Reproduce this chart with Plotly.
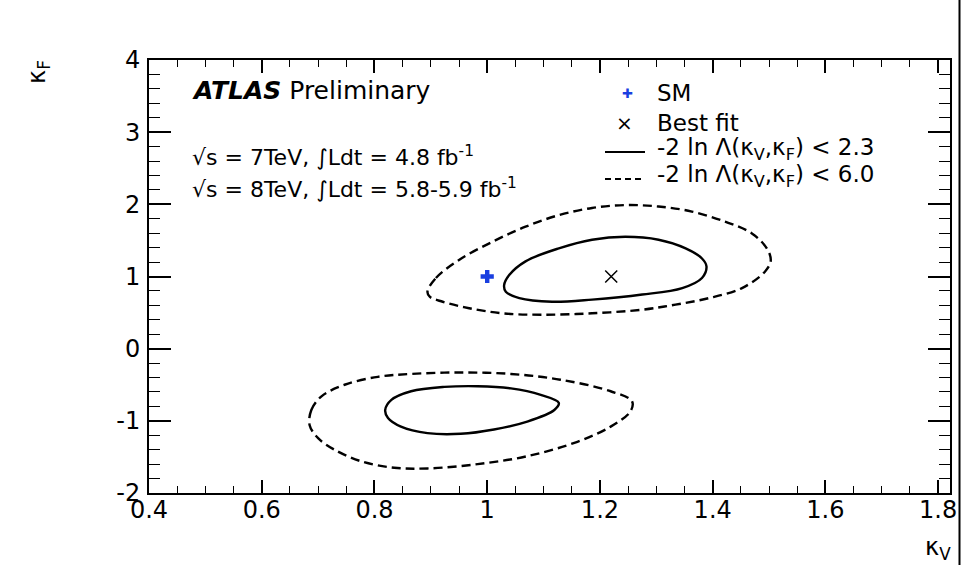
import plotly.graph_objects as go

# ---------------- data ----------------
sm_point = {"kv": [1.0], "kf": [1.0]}
best_fit = {"kv": [1.22], "kf": [1.0]}

upper_solid_kv = [1.030, 1.039, 1.068, 1.127, 1.186, 1.245, 1.304, 1.352, 1.381, 1.389,
                  1.381, 1.346, 1.275, 1.186, 1.115, 1.057, 1.033, 1.030]
upper_solid_kf = [0.88, 1.02, 1.21, 1.39, 1.51, 1.55, 1.51, 1.39, 1.25, 1.14,
                  0.98, 0.84, 0.75, 0.68, 0.65, 0.70, 0.79, 0.88]

upper_dashed_kv = [0.894, 0.909, 0.950, 1.009, 1.068, 1.127, 1.186, 1.245, 1.304, 1.363,
                   1.422, 1.469, 1.496, 1.503, 1.493, 1.452, 1.393, 1.334, 1.275, 1.186,
                   1.098, 1.027, 0.968, 0.921, 0.898, 0.894]
upper_dashed_kf = [0.79, 0.98, 1.23, 1.48, 1.69, 1.85, 1.95, 1.99, 1.97, 1.90,
                   1.76, 1.60, 1.39, 1.22, 1.07, 0.84, 0.70, 0.61, 0.54, 0.49,
                   0.47, 0.49, 0.56, 0.65, 0.72, 0.79]

lower_solid_kv = [0.819, 0.830, 0.865, 0.924, 0.983, 1.042, 1.095, 1.127, 1.119, 1.071,
                  1.012, 0.953, 0.894, 0.847, 0.824, 0.819]
lower_solid_kf = [-0.85, -0.71, -0.59, -0.53, -0.52, -0.55, -0.64, -0.75, -0.85, -1.01,
                  -1.12, -1.18, -1.17, -1.08, -0.96, -0.85]

lower_dashed_kv = [0.685, 0.688, 0.706, 0.747, 0.806, 0.865, 0.953, 1.042, 1.130, 1.219,
                   1.257, 1.254, 1.219, 1.160, 1.071, 0.983, 0.894, 0.835, 0.776, 0.729,
                   0.700, 0.685]
lower_dashed_kf = [-1.06, -0.85, -0.66, -0.50, -0.39, -0.35, -0.33, -0.35, -0.43, -0.59,
                   -0.73, -0.87, -1.08, -1.29, -1.49, -1.60, -1.66, -1.65, -1.56, -1.40,
                   -1.24, -1.06]

x_range = [0.4, 1.821]
y_range = [-2, 4]
x_ticks = [0.4, 0.6, 0.8, 1.0, 1.2, 1.4, 1.6, 1.8]
x_ticklabels = ["0.4", "0.6", "0.8", "1", "1.2", "1.4", "1.6", "1.8"]
y_ticks = [-2, -1, 0, 1, 2, 3, 4]
y_ticklabels = ["-2", "-1", "0", "1", "2", "3", "4"]

legend_labels = ["SM", "Best fit",
                 "-2 ln Λ(κ<sub>V</sub>,κ<sub>F</sub>) &lt; 2.3",
                 "-2 ln Λ(κ<sub>V</sub>,κ<sub>F</sub>) &lt; 6.0"]

# ---------------- layout helpers (pixel -> paper) ----------------
W, H = 969, 565
L, R, T, B = 149, 950, 60, 493


def px(x):
    return (x - L) / (R - L)


def py(y):
    return (B - y) / (B - T)


FONT = "DejaVu Sans"
TICK = 24
LEG = 23

fig = go.Figure()

line_w = 2.4
dash_style = "9px,5px"
for xs, ys, dash in [(upper_dashed_kv, upper_dashed_kf, dash_style),
                     (lower_dashed_kv, lower_dashed_kf, dash_style),
                     (upper_solid_kv, upper_solid_kf, "solid"),
                     (lower_solid_kv, lower_solid_kf, "solid")]:
    fig.add_trace(go.Scatter(x=xs, y=ys, mode="lines",
                             line=dict(color="black", width=line_w, dash=dash,
                                       shape="spline", smoothing=1.0),
                             showlegend=False, hoverinfo="skip"))

fig.add_trace(go.Scatter(x=sm_point["kv"], y=sm_point["kf"], mode="markers",
                         marker=dict(symbol="cross", size=11, color="#1a3fe0",
                                     line=dict(width=0)),
                         showlegend=False))
fig.add_trace(go.Scatter(x=best_fit["kv"], y=best_fit["kf"], mode="markers",
                         marker=dict(symbol="x-thin", size=12, color="black",
                                     line=dict(width=1.5, color="black")),
                         showlegend=False))

axis_common = dict(showline=True, linecolor="black", linewidth=2, mirror="ticks",
                   ticks="inside", tickcolor="black", tickwidth=1.5,
                   showgrid=False, zeroline=False,
                   tickfont=dict(family=FONT, size=TICK, color="black"))

fig.update_xaxes(range=x_range, tickvals=x_ticks, ticktext=x_ticklabels, ticklen=13,
                 ticklabelstandoff=-6,
                 minor=dict(dtick=0.05, tick0=0.4, ticklen=7, ticks="inside",
                            tickcolor="black", tickwidth=1.2, showgrid=False),
                 **axis_common)
fig.update_yaxes(range=y_range, tickvals=y_ticks, ticktext=y_ticklabels, ticklen=22,
                 ticklabelstandoff=2,
                 minor=dict(dtick=0.2, tick0=-2, ticklen=11, ticks="inside",
                            tickcolor="black", tickwidth=1.2, showgrid=False),
                 **axis_common)

ann = []
# ATLAS label
ann.append(dict(x=px(190), y=py(90), xref="paper", yref="paper", xanchor="left",
                yanchor="middle", showarrow=False,
                text="<b><i>ATLAS</i></b> Preliminary",
                font=dict(family=FONT, size=25, color="black")))
ann.append(dict(x=px(190), y=py(156), xref="paper", yref="paper", xanchor="left",
                yanchor="middle", showarrow=False,
                text="√s = 7TeV, ∫Ldt = 4.8 fb<sup>-1</sup>",
                font=dict(family=FONT, size=22, color="black")))
ann.append(dict(x=px(190), y=py(188), xref="paper", yref="paper", xanchor="left",
                yanchor="middle", showarrow=False,
                text="√s = 8TeV, ∫Ldt = 5.8-5.9 fb<sup>-1</sup>",
                font=dict(family=FONT, size=22, color="black")))

# Legend (manual)
leg_rows = [93, 123, 149, 176]
ann.append(dict(x=px(627), y=py(leg_rows[0]), xref="paper", yref="paper",
                xanchor="center", yanchor="middle", showarrow=False, text="✚",
                font=dict(family=FONT, size=13, color="#1a3fe0")))
ann.append(dict(x=px(624), y=py(leg_rows[1]), xref="paper", yref="paper",
                xanchor="center", yanchor="middle", showarrow=False, text="×",
                font=dict(family=FONT, size=20, color="black")))
for lbl, yy in zip(legend_labels, leg_rows):
    ann.append(dict(x=px(655), y=py(yy), xref="paper", yref="paper", xanchor="left",
                    yanchor="middle", showarrow=False, text=lbl,
                    font=dict(family=FONT, size=LEG, color="black")))

# Axis titles
ann.append(dict(x=px(38), y=py(72), xref="paper", yref="paper", xanchor="center",
                yanchor="middle", showarrow=False, textangle=-90,
                text="κ<sub>F</sub>", font=dict(family=FONT, size=TICK, color="black")))
ann.append(dict(x=px(938), y=py(548), xref="paper", yref="paper", xanchor="center",
                yanchor="middle", showarrow=False,
                text="κ<sub>V</sub>", font=dict(family=FONT, size=TICK, color="black")))

shapes = [
    dict(type="line", xref="paper", yref="paper", x0=px(605), x1=px(645),
         y0=py(leg_rows[2] + 3), y1=py(leg_rows[2] + 3),
         line=dict(color="black", width=2)),
    dict(type="line", xref="paper", yref="paper", x0=px(605), x1=px(645),
         y0=py(leg_rows[3] + 3), y1=py(leg_rows[3] + 3),
         line=dict(color="black", width=2, dash="6px,4px")),
    dict(type="line", xref="paper", yref="paper", x0=px(959.5), x1=px(959.5),
         y0=py(0), y1=py(565), line=dict(color="black", width=2)),
]

fig.update_layout(width=W, height=H, margin=dict(l=L, r=W - R, t=T, b=H - B),
                  paper_bgcolor="white", plot_bgcolor="white",
                  annotations=ann, shapes=shapes, showlegend=False,
                  font=dict(family=FONT, color="black"))

fig.write_html("out.html")
